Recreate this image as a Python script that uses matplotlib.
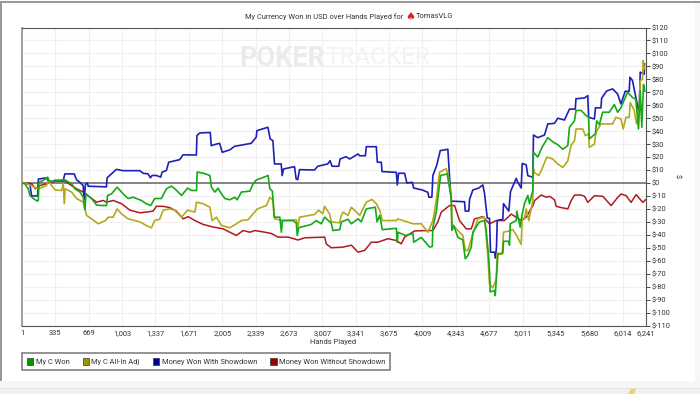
"""
Currency won over hands played, PokerTracker style graph.
"""

import matplotlib
matplotlib.use('Agg')
import matplotlib.pyplot as plt
from matplotlib.patches import Patch, Polygon, Rectangle

W, H = 700, 394

# series values: hands played, dollars
blue_h = [1, 80, 97, 157, 165, 247, 264, 314, 324, 414, 430, 523, 547, 580, 613, 623, 636, 656, 663, 846, 853, 896,
          946, 1013, 1180, 1213, 1263, 1286, 1303, 1346, 1389, 1403, 1446, 1469, 1579, 1612, 1746, 1752, 1779, 1885,
          1895, 1945, 1979, 2005, 2079, 2129, 2295, 2345, 2352, 2462, 2485, 2512, 2528, 2595, 2605, 2618, 2728, 2745,
          2761, 2778, 2928, 2961, 3061, 3084, 3104, 3171, 3184, 3244, 3281, 3364, 3381, 3437, 3447, 3547, 3557, 3597,
          3604, 3747, 3757, 3770, 3830, 3853, 3907, 3920, 4007, 4063, 4073, 4103, 4113, 4153, 4187, 4263, 4280, 4297,
          4430, 4437, 4473, 4480, 4513, 4573, 4613, 4630, 4657, 4680, 4690, 4730, 4740, 4750, 4757, 4813, 4820, 4873,
          4890, 4947, 4963, 4997, 5007, 5047, 5063, 5113, 5120, 5163, 5230, 5263, 5330, 5363, 5430, 5480, 5538, 5545,
          5630, 5663, 5672, 5730, 5740, 5795, 5802, 5852, 5912, 5962, 5995, 6038, 6078, 6085, 6111, 6151, 6178, 6188,
          6211, 6228, 6231]
blue_d = [0, -1, -10, -10, 3, 4, 1, 1, 2, 2, 7, 7, 2.5, 0.5, -2, -13, -1, 0, -2.5, -3, 4, 7,
          10.5, 9.5, 9.5, 7.5, 7, 4, 5.8, 5.8, 4.5, 8.4, 9.6, 16, 18, 21.7, 21.6, 36.5, 38.6, 39,
          28.8, 30, 30.6, 23.7, 25.5, 28.3, 30.6, 35.3, 40.4, 43, 34, 32.7, 14.7, 14.7, 5.7, 10.8, 12.6, 3,
          2.6, 10.3, 10, 12.9, 14.7, 17.2, 12.9, 12.9, 18.5, 20.3, 18.5, 22.4, 21, 21, 28, 28, 16, 16,
          8.8, 8.2, -1.5, 7.5, 7.5, 0, 0.5, -3.9, -5.4, -7.2, -11, -11, 5.7, 14, 25, 26, 4.4, -14,
          -14.5, -21.7, -21.7, -12.7, -5.4, -3.9, -1.5, -8, -27, -27.4, -53.4, -53.4, -58, -49, -29, -28, -16, -21.7,
          -6.7, 3.6, 0.5, -3.9, 15, 14, 5.7, 4.4, 37, 35, 37, 45.6, 46, 50, 48.6, 57, 57, 65,
          65.6, 67.4, 50.7, 49.4, 58, 58, 65.4, 71, 72.6, 68.7, 61, 70.8, 70.8, 81.6, 79, 63.6, 53, 85.5,
          84.7, 84, 92]

green_h = [1, 31, 48, 64, 80, 114, 154, 164, 171, 214, 258, 274, 324, 414, 424, 431, 497, 531, 581, 614, 631, 641,
           697, 747, 797, 847, 857, 897, 953, 1013, 1063, 1113, 1196, 1246, 1289, 1329, 1396, 1446, 1496, 1531, 1598,
           1658, 1698, 1748, 1754, 1814, 1881, 1897, 1931, 1964, 1997, 2031, 2081, 2131, 2154, 2197, 2281, 2314, 2347,
           2397, 2464, 2481, 2507, 2524, 2581, 2597, 2607, 2713, 2746, 2756, 2769, 2896, 2946, 2996, 3029, 3096, 3112,
           3181, 3198, 3264, 3297, 3364, 3397, 3447, 3537, 3554, 3581, 3607, 3747, 3757, 3764, 3837, 3914, 3921, 3997,
           4080, 4107, 4113, 4147, 4180, 4191, 4257, 4297, 4303, 4323, 4363, 4413, 4437, 4463, 4497, 4513, 4580, 4630,
           4647, 4670, 4680, 4687, 4730, 4737, 4747, 4764, 4814, 4820, 4873, 4880, 4887, 4947, 4953, 4987, 5007, 5030,
           5063, 5080, 5113, 5120, 5163, 5205, 5263, 5319, 5363, 5413, 5463, 5480, 5530, 5546, 5596, 5646, 5672, 5678,
           5740, 5752, 5779, 5812, 5879, 5929, 5962, 5995, 6061, 6111, 6144, 6171, 6188, 6204, 6221, 6234]
green_d = [0, -0.6, -3, -4.5, -9.6, -12, -14, -13.5, 0.6, 2, 4.5, 1.4, 1.4, 2.4, 2, 2.4, -0.6, -4.5, -7, -11, -20.7, -8.4,
           -12, -17, -17.4, -17.4, -9.7, -8.4, -3.2, -8.4, -12, -11, -13.5, -16, -17.4, -12, -12, -4.5, -2.4, -4.5, -9.6,
           -4, -5.8, -5.8, 8.4, 7.6, 5.8, -3.2, -7, -4, -8.4, -12, -13, -11, -13, -7, -6.3, -0.6, 2.4,
           3.7, 5.8, -4.5, -6.3, -26.4, -26.4, -38, -29, -29, -31, -40.5, -34.6, -32, -29, -31.5, -26.4, -31, -36.7,
           -36, -30, -28, -31.5, -27.7, -30, -20, -18.7, -30, -25, -36, -35, -45.7, -38, -40.5, -39, -45.7, -42,
           -49.5, -49, -34, -22.5, -0.6, 5.8, 7, -12, -36.7, -33, -42, -44, -58.5, -56, -49.5, -38, -30, -29,
           -36.7, -56, -67.6, -84, -83, -87, -75, -55, -54, -45, -45, -48, -31.5, -29, -21.7, -34, -24, -16,
           -9.6, -16, -5.8, 23.7, 20, 27.5, 35, 31.4, 29.6, 26, 28.8, 43, 48, 56, 56, 52, 50.7, 34,
           38, 48, 45, 54.6, 54.6, 60.5, 54.6, 58, 70, 66, 64.6, 41.7, 71, 43, 76, 71]

yellow_h = [1, 31, 164, 247, 264, 297, 331, 397, 414, 424, 434, 497, 547, 614, 647, 697, 764, 837, 864, 914, 953, 997,
            1063, 1180, 1246, 1296, 1329, 1379, 1413, 1479, 1529, 1598, 1658, 1731, 1748, 1814, 1881, 1904, 1947, 1997,
            2081, 2147, 2197, 2264, 2314, 2357, 2447, 2481, 2514, 2531, 2614, 2746, 2762, 2779, 2929, 2969, 3012, 3029,
            3079, 3096, 3179, 3196, 3214, 3264, 3297, 3381, 3447, 3504, 3547, 3581, 3607, 3747, 3764, 3914, 3997, 4064,
            4113, 4147, 4180, 4247, 4270, 4297, 4303, 4363, 4413, 4437, 4463, 4503, 4563, 4630, 4663, 4680, 4713, 4747,
            4757, 4806, 4820, 4880, 4913, 4947, 4997, 5007, 5030, 5047, 5073, 5097, 5113, 5120, 5130, 5173, 5205, 5253,
            5313, 5363, 5413, 5463, 5496, 5530, 5546, 5613, 5639, 5672, 5678, 5730, 5745, 5795, 5912, 5945, 5995, 6018,
            6045, 6078, 6088, 6128, 6151, 6178, 6188, 6211, 6218, 6231]
yellow_d = [0, 0, -4.5, -2, 2, -2, -5.3, -5.8, -0.6, -16, -4.5, -7, -12, -14.8, -25, -27.7, -31.5, -29, -26.4, -26.4, -20, -23.8,
            -27.7, -30, -32.8, -34.6, -29, -28, -21, -20, -21, -26.4, -21, -22.5, -14.8, -16, -18.7, -29, -26.4, -32.8,
            -34.6, -31.5, -29, -28.4, -23.8, -20, -17.4, -11, -13.5, -27.7, -29, -28.4, -34, -26.4, -24.3, -21, -23.8, -18,
            -23.8, -30, -30.8, -25, -22.5, -25, -18.7, -25, -14.8, -12.7, -16, -21, -29, -29, -27.7, -31.5, -31.5, -38,
            -29, -13.5, 8.4, 11, 4.5, -11, -31.5, -36.7, -40.5, -52, -52, -42, -27.7, -26.4, -56, -78, -81, -74.5,
            -54, -55, -38, -37, -36, -40, -47.5, -27, -28, -20, -29, -20, -14, 11, 8, 5.7, 10.8, 20,
            18.5, 14.7, 12, 17, 29, 32.7, 41.7, 41.7, 36.5, 38, 27.5, 30, 39, 45.6, 45.6, 50.7, 49.4, 41.7,
            50.7, 50.7, 62, 56, 45.6, 56, 79, 80, 94.5, 88]

red_h = [1, 48, 97, 137, 179, 247, 264, 364, 431, 497, 547, 614, 681, 747, 814, 847, 914, 997, 1081, 1180, 1246, 1313,
         1346, 1413, 1479, 1546, 1613, 1664, 1731, 1814, 1914, 2014, 2081, 2147, 2214, 2281, 2331, 2431, 2497, 2564,
         2664, 2764, 2831, 3031, 3046, 3096, 3213, 3297, 3364, 3431, 3497, 3564, 3664, 3747, 3797, 3830, 3930, 4064,
         4113, 4163, 4197, 4280, 4330, 4380, 4447, 4497, 4530, 4613, 4680, 4747, 4830, 4897, 4997, 5047, 5114, 5131,
         5197, 5247, 5281, 5331, 5347, 5397, 5464, 5497, 5531, 5597, 5631, 5664, 5731, 5814, 5897, 5964, 5997, 6047,
         6097, 6147, 6214, 6240]
red_d = [0, 0, -0.6, -4.5, -2, -0.6, 0.6, 1.4, 1.4, -2, -4.5, -7, -11, -14.8, -13.5, -14.8, -13.5, -16, -21, -23, -22.5, -21.7,
         -18, -18, -19, -21.7, -27.7, -26, -29, -32, -34, -35.4, -38, -40.5, -36.7, -38, -36.7, -38, -39, -41.8,
         -41.8, -44, -42.3, -41.8, -47, -50, -49.5, -48, -53.4, -52, -45.7, -45.7, -43, -44.4, -47, -41.8, -37, -36.7,
         -36.7, -30, -22.5, -17.4, -17.4, -29, -35.4, -35.4, -27.7, -26, -31.5, -29, -29, -24, -29, -26.4, -17.5, -13.6,
         -9.3, -11, -10.3, -13, -18, -19, -20, -13.6, -9.3, -9.3, -10.3, -15, -9.8, -10.3, -17.5, -11, -8.5, -9.8,
         -15, -9, -15, -13]

x_ticks = [1, 335, 669, 1003, 1337, 1671, 2005, 2339, 2673, 3007, 3341, 3675, 4009, 4343, 4677, 5011, 5345, 5680, 6014, 6241]
y_ticks = list(range(-110, 130, 10))
legend_labels = ['My C Won', 'My C All-In Adj', 'Money Won With Showdown', 'Money Won Without Showdown']
line_cols = ['#18a818', '#b5a91c', '#2020b8', '#b01a20']
patch_cols = ['#009900', '#999900', '#000099', '#990000']

plt.rcParams['font.family'] = ['Roboto', 'DejaVu Sans']
FS = 5.45
TXT = '#333333'

fig = plt.figure(figsize=(W/100, H/100), dpi=100, facecolor='white')

# window chrome behind the chart, pixel boxes measured from the top left
for x0, y0, w, h, col in [(0, 381, 700, 7, '#f6f6f6'), (0, 388, 700, 1, '#e2e2e2'), (0, 389, 700, 5, '#f0f0f0'),
                          (695, 3, 5, 378, '#f7f7f7'), (0, 1, 700, 1.5, '#999999'), (0, 1, 1.5, 380, '#999999')]:
    fig.patches.append(Rectangle((x0/W, 1 - (y0 + h)/H), w/W, h/H, transform=fig.transFigure, fc=col, ec='none'))
fig.patches.append(Polygon([(628/W, 0), (631/W, 1 - 389/H), (636/W, 1 - 389/H), (634/W, 0)],
                           transform=fig.transFigure, fc='#f0d060', ec='none'))

ax = fig.add_axes([22/W, 1 - 325.5/H, 623.5/W, 298/H])
ax.set_xlim(1, 6241)
ax.set_ylim(-110, 120)

fig.text(325/W, 1 - 58/H, 'POKER', ha='right', va='center', fontsize=19.5, fontweight='bold', color='#ebebeb')
fig.text(325/W, 1 - 58/H, 'TRACKER', ha='left', va='center', fontsize=17.5, color='#f3f3f3')

ax.axhline(0, color='#666666', lw=1.1, zorder=2)
ax.plot(red_h, red_d, color=line_cols[3], lw=1.1, zorder=3)
ax.plot(blue_h, blue_d, color=line_cols[2], lw=1.2, zorder=4)
ax.plot(yellow_h, yellow_d, color=line_cols[1], lw=1.2, zorder=5)
ax.plot(green_h, green_d, color=line_cols[0], lw=1.2, zorder=6)

ax.set_xticks(x_ticks, labels=[f'{t:,}' for t in x_ticks])
ax.set_yticks(y_ticks, labels=[f'$-{-t}' if t < 0 else f'${t}' for t in y_ticks])
ax.yaxis.tick_right()
ax.tick_params(axis='x', length=0, labelsize=FS, pad=3, colors=TXT)
ax.tick_params(axis='y', length=3, width=0.7, labelsize=FS, pad=1.5, color='#444444', labelcolor=TXT)
ax.grid(color='#f0f0f0', lw=0.8)
ax.set_axisbelow(True)
for side in ['top', 'bottom', 'right']:
    ax.spines[side].set_color('#555555')
    ax.spines[side].set_linewidth(0.8)
ax.spines['left'].set_color('#999999')
ax.spines['left'].set_linewidth(1.3)

fig.text(333/W, 1 - 342/H, 'Hands Played', ha='center', va='center', fontsize=FS, color=TXT)
fig.text(678/W, 1 - 176/H, '$', ha='center', va='center', rotation=270, fontsize=FS, color=TXT)

fig.text(403/W, 1 - 16.5/H, 'My Currency Won in USD over Hands Played for', ha='right', va='center',
         fontsize=FS, color=TXT)
fig.text(410/W, 1 - 16.5/H, '\u2660', ha='center', va='center', fontsize=8, color='#e02020', family='DejaVu Sans')
fig.text(416/W, 1 - 16.5/H, 'TomasVLG', ha='left', va='center', fontsize=FS, color=TXT)

handles = [Patch(fc=c, ec='#333333', lw=0.5) for c in patch_cols]
leg = fig.legend(handles, legend_labels, ncol=4, loc='lower left', bbox_to_anchor=(22/W, 1 - 370/H),
                 bbox_transform=fig.transFigure, fontsize=FS, frameon=True, fancybox=False, borderaxespad=0,
                 handlelength=0.85, handleheight=0.9, handletextpad=0.3, columnspacing=1.75, borderpad=0.65,
                 labelcolor=TXT)
leg.get_frame().set_edgecolor('#777777')
leg.get_frame().set_linewidth(1.1)
leg.get_frame().set_alpha(1)

fig.savefig('out.png', dpi=100)
